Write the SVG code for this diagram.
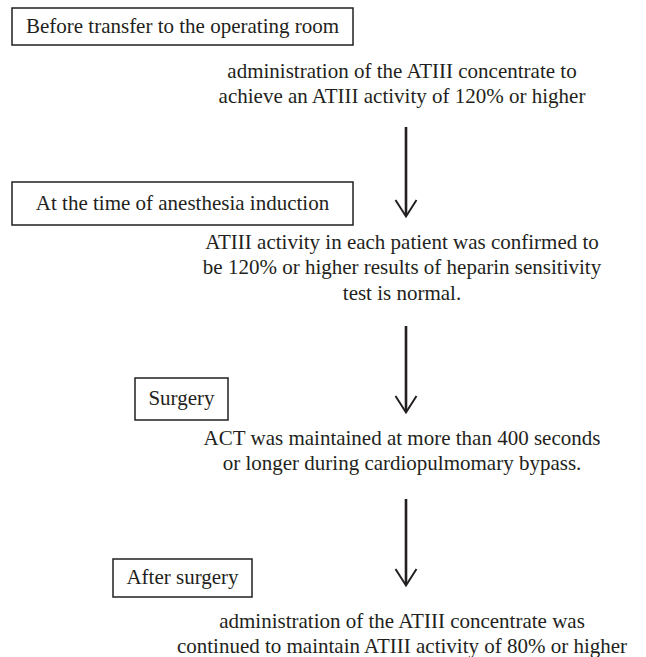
<svg xmlns="http://www.w3.org/2000/svg" width="646" height="657" viewBox="0 0 646 657">
<style>
text{font-family:"Liberation Serif","Times New Roman",serif;font-size:21px;fill:#231f20;text-anchor:middle}
.box{fill:#fff;stroke:#231f20;stroke-width:1.5}
.shaft{stroke:#231f20;stroke-width:2.6;fill:none}
.head{stroke:#231f20;stroke-width:2;fill:none;stroke-linejoin:miter}
</style>
<rect width="646" height="657" fill="#fff"/>
<g id="step1">
<rect class="box" x="12" y="8" width="341" height="37"/>
<text x="182.5" y="33">Before transfer to the operating room</text>
</g>
<g id="note1">
<text x="402" y="78">administration of the ATIII concentrate to</text>
<text x="402" y="103">achieve an ATIII activity of 120% or higher</text>
</g>
<g id="step2">
<rect class="box" x="12" y="182" width="341" height="43"/>
<text x="182.5" y="210">At the time of anesthesia induction</text>
</g>
<g id="note2">
<text x="402" y="249">ATIII activity in each patient was confirmed to</text>
<text x="402" y="274">be 120% or higher results of heparin sensitivity</text>
<text x="402" y="300">test is normal.</text>
</g>
<g id="step3">
<rect class="box" x="135" y="378" width="93" height="42"/>
<text x="181.5" y="405">Surgery</text>
</g>
<g id="note3">
<text x="402" y="445">ACT was maintained at more than 400 seconds</text>
<text x="402" y="470">or longer during cardiopulmomary bypass.</text>
</g>
<g id="step4">
<rect class="box" x="113" y="559" width="139" height="38"/>
<text x="182.5" y="584">After surgery</text>
</g>
<g id="note4">
<text x="402" y="628">administration of the ATIII concentrate was</text>
<text x="402" y="653">continued to maintain ATIII activity of 80% or higher</text>
</g>
<g id="connectors">
<line class="shaft" x1="406" y1="127" x2="406" y2="215"/>
<polyline class="head" points="395.5,200 406,216.5 416.5,200"/>
<line class="shaft" x1="406" y1="326" x2="406" y2="411"/>
<polyline class="head" points="395.5,396 406,412.5 416.5,396"/>
<line class="shaft" x1="406" y1="499" x2="406" y2="584"/>
<polyline class="head" points="395.5,569 406,585.5 416.5,569"/>
</g>
</svg>
